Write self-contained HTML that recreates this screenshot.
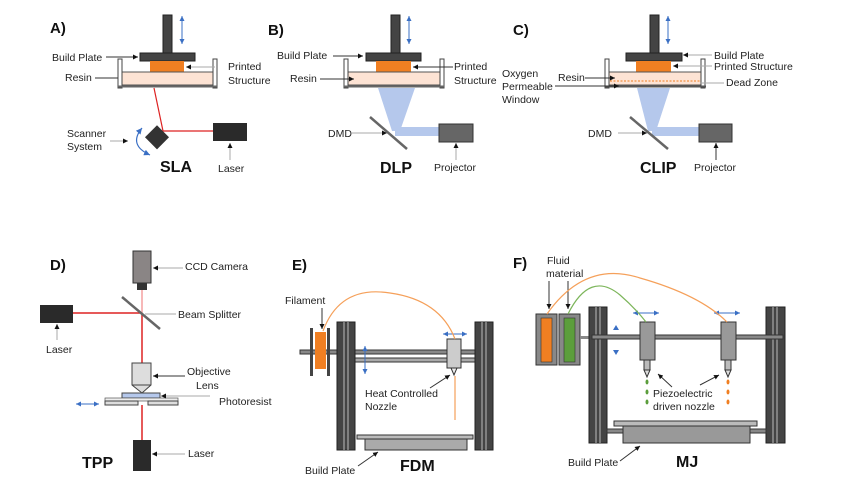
<!DOCTYPE html>
<html><head><meta charset="utf-8"><style>
html,body{margin:0;padding:0;background:#fff;}
svg{display:block;font-family:"Liberation Sans",Arial,sans-serif;}
.t{font-size:10.5px;fill:#222;}
.b{font-weight:bold;fill:#111;}
</style></head><body>
<svg width="866" height="479" viewBox="0 0 866 479" xmlns="http://www.w3.org/2000/svg">
<defs>
<marker id="ah" markerWidth="6" markerHeight="6" refX="5" refY="3" orient="auto"><path d="M0,0.5 L5,3 L0,5.5z" fill="#111"/></marker>
<marker id="bh" markerWidth="6" markerHeight="6" refX="5" refY="3" orient="auto"><path d="M0,0.5 L5,3 L0,5.5z" fill="#3a6fc4"/></marker>
<marker id="bt" markerWidth="6" markerHeight="6" refX="1" refY="3" orient="auto"><path d="M6,0.5 L1,3 L6,5.5z" fill="#3a6fc4"/></marker>
</defs>
<g stroke-width="1">
<!-- Panel A -->
<text x="50" y="33" class="b" font-size="15">A)</text>
<rect x="163" y="15" width="9" height="38" fill="#444" stroke="#222"/>
<line x1="182" y1="16" x2="182" y2="44" stroke="#3a6fc4" marker-end="url(#bh)" marker-start="url(#bt)"/>
<rect x="140" y="53" width="55" height="8" fill="#444" stroke="#222"/>
<rect x="150" y="61" width="34" height="11" fill="#f07f22"/>
<rect x="121" y="72" width="92" height="13" fill="#fde3d4" stroke="#555"/>
<rect x="118" y="59" width="4" height="29" fill="#fff" stroke="#444"/>
<rect x="213" y="59" width="4" height="29" fill="#fff" stroke="#444"/>
<line x1="118" y1="86.5" x2="217" y2="86.5" stroke="#666" stroke-width="2"/>
<polyline points="154,88 163,131 213,131" fill="none" stroke="#d22" stroke-width="1.2"/>
<rect x="213" y="123" width="34" height="18" fill="#2a2a2a"/>
<rect x="148" y="129" width="17" height="17" fill="#333" transform="rotate(45 157 138)"/>
<path d="M142,128 Q128,145 150,155" fill="none" stroke="#3a6fc4" stroke-width="1.2" marker-end="url(#bh)" marker-start="url(#bt)"/>
<text x="52" y="61" class="t">Build Plate</text><line x1="106" y1="57" x2="138" y2="57" stroke="#333" marker-end="url(#ah)"/>
<text x="65" y="81" class="t">Resin</text><line x1="95" y1="78" x2="118" y2="78" stroke="#333"/>
<text x="228" y="70" class="t">Printed</text><text x="228" y="84" class="t">Structure</text>
<line x1="215" y1="67" x2="186" y2="67" stroke="#aaa" marker-end="url(#ah)"/>
<text x="67" y="137" class="t">Scanner</text><text x="67" y="150" class="t">System</text>
<line x1="110" y1="141" x2="128" y2="141" stroke="#aaa" marker-end="url(#ah)"/>
<text x="160" y="172" class="b" font-size="16">SLA</text>
<text x="218" y="172" class="t">Laser</text><line x1="230" y1="160" x2="230" y2="143" stroke="#aaa" marker-end="url(#ah)"/>

<!-- Panel B -->
<text x="268" y="35" class="b" font-size="15">B)</text>
<polygon points="378,88 415,88 400,131 392,131" fill="#b5c8ec"/>
<rect x="395" y="127" width="44" height="9" fill="#b5c8ec"/>
<rect x="391" y="15" width="9" height="38" fill="#444" stroke="#222"/>
<line x1="409" y1="16" x2="409" y2="44" stroke="#3a6fc4" marker-end="url(#bh)" marker-start="url(#bt)"/>
<rect x="366" y="53" width="55" height="8" fill="#444" stroke="#222"/>
<rect x="376" y="61" width="35" height="11" fill="#f07f22"/>
<rect x="347" y="72" width="94" height="13" fill="#fde3d4" stroke="#555"/>
<rect x="344" y="59" width="4" height="29" fill="#fff" stroke="#444"/>
<rect x="440" y="59" width="4" height="29" fill="#fff" stroke="#444"/>
<line x1="344" y1="86.5" x2="444" y2="86.5" stroke="#666" stroke-width="2"/>
<line x1="370" y1="117" x2="407" y2="149" stroke="#666" stroke-width="2.5"/>
<rect x="439" y="124" width="34" height="18" fill="#666" stroke="#333"/>
<text x="277" y="59" class="t">Build Plate</text><line x1="333" y1="56" x2="363" y2="56" stroke="#333" marker-end="url(#ah)"/>
<text x="290" y="82" class="t">Resin</text><line x1="320" y1="79" x2="354" y2="79" stroke="#333" marker-end="url(#ah)"/>
<text x="454" y="70" class="t">Printed</text><text x="454" y="84" class="t">Structure</text>
<line x1="453" y1="67" x2="413" y2="67" stroke="#333" marker-end="url(#ah)"/>
<text x="328" y="137" class="t">DMD</text><line x1="352" y1="133" x2="387" y2="133" stroke="#aaa" marker-end="url(#ah)"/>
<text x="380" y="173" class="b" font-size="16">DLP</text>
<text x="434" y="171" class="t">Projector</text><line x1="456" y1="160" x2="456" y2="143" stroke="#aaa" marker-end="url(#ah)"/>

<!-- Panel C -->
<text x="513" y="35" class="b" font-size="15">C)</text>
<polygon points="637,88 670,88 656,131 648,131" fill="#b5c8ec"/>
<rect x="652" y="127" width="47" height="9" fill="#b5c8ec"/>
<rect x="650" y="15" width="9" height="38" fill="#444" stroke="#222"/>
<line x1="668" y1="16" x2="668" y2="44" stroke="#3a6fc4" marker-end="url(#bh)" marker-start="url(#bt)"/>
<rect x="626" y="53" width="56" height="8" fill="#444" stroke="#222"/>
<rect x="636" y="61" width="35" height="11" fill="#f07f22"/>
<rect x="608" y="72" width="93" height="13" fill="#fde3d4" stroke="#555"/>
<line x1="610" y1="81" x2="700" y2="81" stroke="#f07f22" stroke-dasharray="2,1.5"/>
<rect x="605" y="59" width="4" height="29" fill="#fff" stroke="#444"/>
<rect x="701" y="59" width="4" height="29" fill="#fff" stroke="#444"/>
<line x1="605" y1="86.5" x2="706" y2="86.5" stroke="#555" stroke-width="2"/>
<line x1="630" y1="117" x2="668" y2="149" stroke="#666" stroke-width="2.5"/>
<rect x="699" y="124" width="33" height="18" fill="#666" stroke="#333"/>
<text x="714" y="59" class="t">Build Plate</text><text x="714" y="70" class="t">Printed Structure</text>
<line x1="712" y1="55" x2="683" y2="55" stroke="#aaa" marker-end="url(#ah)"/>
<line x1="712" y1="66" x2="673" y2="66" stroke="#aaa" marker-end="url(#ah)"/>
<text x="726" y="86" class="t">Dead Zone</text><line x1="724" y1="83" x2="700" y2="83" stroke="#aaa"/>
<text x="558" y="81" class="t">Resin</text><line x1="585" y1="78" x2="615" y2="78" stroke="#333" marker-end="url(#ah)"/>
<text x="502" y="77" class="t">Oxygen</text><text x="502" y="90" class="t">Permeable</text><text x="502" y="103" class="t">Window</text>
<line x1="555" y1="86" x2="619" y2="86" stroke="#333" marker-end="url(#ah)"/>
<text x="588" y="137" class="t">DMD</text><line x1="618" y1="133" x2="647" y2="133" stroke="#aaa" marker-end="url(#ah)"/>
<text x="640" y="173" class="b" font-size="16">CLIP</text>
<text x="694" y="171" class="t">Projector</text><line x1="716" y1="160" x2="716" y2="143" stroke="#333" marker-end="url(#ah)"/>

<!-- Panel D -->
<text x="50" y="270" class="b" font-size="15">D)</text>
<line x1="142" y1="290" x2="142" y2="313" stroke="#f4a0a0" stroke-width="1.5"/>
<line x1="73" y1="313" x2="142" y2="313" stroke="#d22" stroke-width="1.5"/>
<line x1="142" y1="313" x2="142" y2="363" stroke="#d22" stroke-width="1.5"/>
<line x1="142" y1="405" x2="142" y2="440" stroke="#d22" stroke-width="1.5"/>
<rect x="133" y="251" width="18" height="32" fill="#8a8585" stroke="#333"/>
<rect x="137" y="283" width="10" height="7" fill="#333"/>
<line x1="122" y1="297" x2="160" y2="329" stroke="#666" stroke-width="2.5"/>
<rect x="40" y="305" width="33" height="18" fill="#2a2a2a"/>
<path d="M132,363 H151 V385 L142,393 L132,385Z" fill="#ddd" stroke="#444"/>
<line x1="132" y1="385" x2="151" y2="385" stroke="#444"/>
<rect x="122" y="393" width="38" height="5" fill="#b5c8ec" stroke="#444"/>
<rect x="105" y="398" width="73" height="3" fill="#eee" stroke="#555" stroke-width="0.7"/>
<rect x="105" y="401" width="33" height="4" fill="#ddd" stroke="#444"/>
<rect x="148" y="401" width="30" height="4" fill="#ddd" stroke="#444"/>
<line x1="76" y1="404" x2="99" y2="404" stroke="#3a6fc4" marker-end="url(#bh)" marker-start="url(#bt)"/>
<rect x="133" y="440" width="18" height="31" fill="#2a2a2a"/>
<text x="185" y="270" class="t">CCD Camera</text><line x1="183" y1="268" x2="153" y2="268" stroke="#aaa" marker-end="url(#ah)"/>
<text x="178" y="318" class="t">Beam Splitter</text><line x1="176" y1="314" x2="145" y2="314" stroke="#aaa"/>
<text x="46" y="353" class="t">Laser</text><line x1="57" y1="340" x2="57" y2="324" stroke="#aaa" marker-end="url(#ah)"/>
<text x="187" y="375" class="t">Objective</text><text x="196" y="389" class="t">Lens</text>
<line x1="185" y1="376" x2="153" y2="376" stroke="#333" marker-end="url(#ah)"/>
<text x="219" y="405" class="t">Photoresist</text><line x1="210" y1="396" x2="161" y2="396" stroke="#aaa" marker-end="url(#ah)"/>
<text x="188" y="457" class="t">Laser</text><line x1="185" y1="454" x2="152" y2="454" stroke="#aaa" marker-end="url(#ah)"/>
<text x="82" y="468" class="b" font-size="16">TPP</text>

<!-- Panel E -->
<text x="292" y="270" class="b" font-size="15">E)</text>
<rect x="300" y="350" width="190" height="4" fill="#888" stroke="#333"/>
<rect x="340" y="358" width="150" height="4" fill="#aaa" stroke="#333"/>
<rect x="310" y="328" width="3" height="48" fill="#444"/>
<rect x="327" y="328" width="3" height="48" fill="#444"/>
<rect x="315" y="332" width="11" height="37" fill="#f07f22"/>
<rect x="337" y="322" width="18" height="128" fill="#444" stroke="#222"/>
<line x1="344" y1="322" x2="344" y2="450" stroke="#bbb"/><line x1="348" y1="322" x2="348" y2="450" stroke="#bbb"/>
<rect x="475" y="322" width="18" height="128" fill="#444" stroke="#222"/>
<line x1="482" y1="322" x2="482" y2="450" stroke="#bbb"/><line x1="486" y1="322" x2="486" y2="450" stroke="#bbb"/>
<rect x="447" y="339" width="14" height="29" fill="#ccc" stroke="#333"/>
<path d="M451,368 L457,368 L454,375Z" fill="#eee" stroke="#333"/>
<line x1="443" y1="334" x2="467" y2="334" stroke="#3a6fc4" marker-end="url(#bh)" marker-start="url(#bt)"/>
<line x1="365" y1="346" x2="365" y2="374" stroke="#3a6fc4" marker-end="url(#bh)" marker-start="url(#bt)"/>
<path d="M323,331 Q340,285 390,293 Q440,300 455,339" fill="none" stroke="#f5a05a" stroke-width="1.2"/>
<line x1="455" y1="376" x2="455" y2="420" stroke="#f5a05a" stroke-width="1.2"/>
<rect x="357" y="435" width="116" height="4" fill="#bbb" stroke="#333"/>
<rect x="365" y="439" width="102" height="11" fill="#aaa" stroke="#333"/>
<text x="285" y="304" class="t">Filament</text><line x1="322" y1="308" x2="322" y2="329" stroke="#333" marker-end="url(#ah)"/>
<text x="365" y="397" class="t">Heat Controlled</text><text x="365" y="410" class="t">Nozzle</text>
<line x1="430" y1="388" x2="450" y2="375" stroke="#333" marker-end="url(#ah)"/>
<text x="305" y="474" class="t">Build Plate</text><line x1="358" y1="466" x2="378" y2="452" stroke="#333" marker-end="url(#ah)"/>
<text x="400" y="471" class="b" font-size="16">FDM</text>

<!-- Panel F -->
<text x="513" y="268" class="b" font-size="15">F)</text>
<text x="547" y="264" class="t">Fluid</text><text x="546" y="277" class="t">material</text>
<line x1="549" y1="281" x2="549" y2="309" stroke="#333" marker-end="url(#ah)"/>
<line x1="568" y1="281" x2="568" y2="309" stroke="#333" marker-end="url(#ah)"/>
<rect x="536" y="314" width="21" height="51" fill="#888" stroke="#333"/>
<rect x="541" y="318" width="11" height="44" fill="#f07f22" stroke="#333" stroke-width="0.6"/>
<rect x="559" y="314" width="21" height="51" fill="#888" stroke="#333"/>
<rect x="564" y="318" width="11" height="44" fill="#5c9e3c" stroke="#333" stroke-width="0.6"/>
<rect x="580" y="336" width="12" height="3" fill="#888"/>
<rect x="589" y="307" width="18" height="136" fill="#444" stroke="#222"/>
<line x1="596" y1="307" x2="596" y2="443" stroke="#bbb"/><line x1="600" y1="307" x2="600" y2="443" stroke="#bbb"/>
<rect x="766" y="307" width="19" height="136" fill="#444" stroke="#222"/>
<line x1="773" y1="307" x2="773" y2="443" stroke="#bbb"/><line x1="777" y1="307" x2="777" y2="443" stroke="#bbb"/>
<rect x="592" y="335" width="191" height="4" fill="#888" stroke="#333"/>
<rect x="607" y="429" width="159" height="4" fill="#888" stroke="#333"/>
<rect x="640" y="322" width="15" height="38" fill="#999" stroke="#333"/>
<rect x="644" y="360" width="6" height="10" fill="#bbb" stroke="#333"/>
<path d="M644,370 L650,370 L647,377Z" fill="#ddd" stroke="#333"/>
<rect x="721" y="322" width="15" height="38" fill="#999" stroke="#333"/>
<rect x="725" y="360" width="6" height="10" fill="#bbb" stroke="#333"/>
<path d="M725,370 L731,370 L728,377Z" fill="#ddd" stroke="#333"/>
<g fill="#5c9e3c"><ellipse cx="647" cy="382" rx="1.5" ry="2.5"/><ellipse cx="647" cy="392" rx="1.5" ry="2.5"/><ellipse cx="647" cy="402" rx="1.5" ry="2.5"/></g>
<g fill="#f07f22"><ellipse cx="728" cy="382" rx="1.5" ry="2.5"/><ellipse cx="728" cy="392" rx="1.5" ry="2.5"/><ellipse cx="728" cy="402" rx="1.5" ry="2.5"/></g>
<line x1="633" y1="313" x2="659" y2="313" stroke="#3a6fc4" marker-end="url(#bh)" marker-start="url(#bt)"/>
<line x1="714" y1="313" x2="740" y2="313" stroke="#3a6fc4" marker-end="url(#bh)" marker-start="url(#bt)"/>
<path d="M613,330 L619,330 L616,325Z" fill="#3a6fc4"/><path d="M613,350 L619,350 L616,355Z" fill="#3a6fc4"/>
<path d="M547,314 Q585,260 640,278 Q700,295 727,322" fill="none" stroke="#f5a05a" stroke-width="1.2"/>
<path d="M568,314 Q590,270 620,295 Q635,308 646,322" fill="none" stroke="#7cb55a" stroke-width="1.2"/>
<rect x="614" y="421" width="143" height="5" fill="#bbb" stroke="#333"/>
<rect x="623" y="426" width="127" height="17" fill="#999" stroke="#333"/>
<text x="653" y="397" class="t">Piezoelectric</text><text x="653" y="410" class="t">driven nozzle</text>
<line x1="672" y1="387" x2="658" y2="374" stroke="#333" marker-end="url(#ah)"/>
<line x1="700" y1="385" x2="719" y2="375" stroke="#333" marker-end="url(#ah)"/>
<text x="568" y="466" class="t">Build Plate</text><line x1="620" y1="461" x2="640" y2="446" stroke="#333" marker-end="url(#ah)"/>
<text x="676" y="467" class="b" font-size="16">MJ</text>
</g>
</svg>
</body></html>
